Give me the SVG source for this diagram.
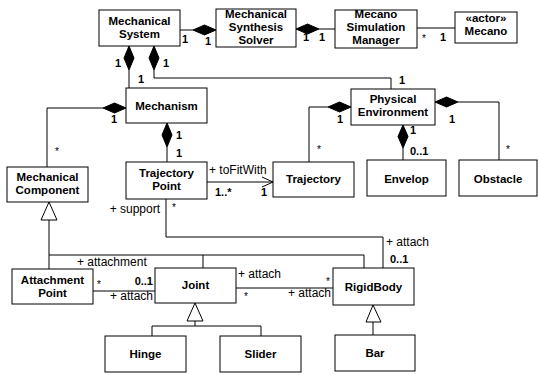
<svg xmlns="http://www.w3.org/2000/svg" width="538" height="375" viewBox="0 0 538 375">
<style>
.box{fill:#fff;stroke:#000;stroke-width:1}
.n{font-family:"Liberation Sans",Arial,sans-serif;font-size:11.5px;font-weight:bold;text-anchor:middle;fill:#000}
.m{font-family:"Liberation Sans",Arial,sans-serif;font-size:11px;font-weight:bold;fill:#000}
.r{font-family:"Liberation Sans",Arial,sans-serif;font-size:12px;fill:#000}
.s{font-family:"Liberation Sans",Arial,sans-serif;font-size:10px;fill:#000}
.ln{fill:none;stroke:#000;stroke-width:1}
.dm{fill:#000;stroke:#000;stroke-width:1}
.tri{fill:#fff;stroke:#000;stroke-width:1}
</style>
<rect width="538" height="375" fill="#fff"/>
<g id="connectors">
  <!-- MS - MSS -->
  <line class="ln" x1="180" y1="30" x2="193" y2="30"/>
  <polygon class="dm" points="216,30 204.5,25 193,30 204.5,35"/>
  <text class="m" x="185" y="43" text-anchor="middle">1</text>
  <text class="m" x="208" y="45" text-anchor="middle">1</text>
  <!-- MSS - MSM -->
  <polygon class="dm" points="296,29 307.5,24 319,29 307.5,34"/>
  <line class="ln" x1="319" y1="29" x2="335" y2="29"/>
  <text class="m" x="306" y="41" text-anchor="middle">1</text>
  <text class="m" x="322" y="41" text-anchor="middle">1</text>
  <!-- MSM - Mecano -->
  <line class="ln" x1="417" y1="28" x2="455" y2="28"/>
  <text class="s" x="424" y="42" text-anchor="middle">*</text>
  <text class="m" x="443" y="41" text-anchor="middle">1</text>
  <!-- MS - Mechanism -->
  <polygon class="dm" points="129,46 134,58 129,70 124,58"/>
  <line class="ln" x1="129" y1="70" x2="129" y2="88"/>
  <text class="m" x="118" y="67" text-anchor="middle">1</text>
  <text class="m" x="141" y="83" text-anchor="middle">1</text>
  <!-- MS - Physical Environment -->
  <polygon class="dm" points="154,46 159,58 154,70 149,58"/>
  <polyline class="ln" points="154,70 154,78 391,78 391,89"/>
  <text class="m" x="166" y="67" text-anchor="middle">1</text>
  <text class="m" x="402" y="84" text-anchor="middle">1</text>
  <!-- Mechanism - Mechanical Component -->
  <polygon class="dm" points="126,108 114.5,103 103,108 114.5,113"/>
  <polyline class="ln" points="103,108 47,108 47,167"/>
  <text class="m" x="114" y="123" text-anchor="middle">1</text>
  <text class="s" x="57" y="155" text-anchor="middle">*</text>
  <!-- Mechanism - Trajectory Point -->
  <polygon class="dm" points="167,123 172,135 167,147 162,135"/>
  <line class="ln" x1="167" y1="147" x2="167" y2="162"/>
  <text class="m" x="179" y="139" text-anchor="middle">1</text>
  <text class="m" x="179" y="157" text-anchor="middle">1</text>
  <!-- Trajectory Point - Trajectory -->
  <line class="ln" x1="207" y1="182" x2="273" y2="182"/>
  <polyline class="ln" points="262,177 273,182 262,187"/>
  <text class="r" x="209" y="174">+ toFitWith</text>
  <text class="m" x="215" y="196">1..*</text>
  <text class="m" x="264" y="196" text-anchor="middle">1</text>
  <!-- PE - Trajectory -->
  <polygon class="dm" points="351,107 339.5,102 328,107 339.5,112"/>
  <polyline class="ln" points="328,107 309,107 309,162"/>
  <text class="m" x="340" y="123" text-anchor="middle">1</text>
  <text class="s" x="319" y="153" text-anchor="middle">*</text>
  <!-- PE - Obstacle -->
  <polygon class="dm" points="435,102 446.5,97 458,102 446.5,107"/>
  <polyline class="ln" points="458,102 499,102 499,160"/>
  <text class="m" x="452" y="123" text-anchor="middle">1</text>
  <text class="s" x="508" y="153" text-anchor="middle">*</text>
  <!-- PE - Envelop -->
  <polygon class="dm" points="403,125 408,136.5 403,148 398,136.5"/>
  <line class="ln" x1="403" y1="148" x2="403" y2="160"/>
  <text class="m" x="413" y="134" text-anchor="middle">1</text>
  <text class="m" x="410" y="155">0..1</text>
  <!-- Generalization Mechanical Component -->
  <polygon class="tri" points="49,202 41,220 57,220"/>
  <line class="ln" x1="49" y1="220" x2="49" y2="255" stroke-width="1.3"/>
  <polyline class="ln" points="49,269 49,255 364,255 364,268"/>
  <line class="ln" x1="203" y1="255" x2="203" y2="268"/>
  <text class="r" x="77" y="266">+ attachment</text>
  <!-- Attachment Point - Joint -->
  <line class="ln" x1="93" y1="291" x2="155" y2="291"/>
  <text class="s" x="99" y="288" text-anchor="middle">*</text>
  <text class="m" x="153" y="285" text-anchor="end">0..1</text>
  <text class="r" x="153" y="300" text-anchor="end">+ attach</text>
  <!-- Joint - RigidBody -->
  <line class="ln" x1="236" y1="288" x2="333" y2="288"/>
  <text class="r" x="238" y="278">+ attach</text>
  <text class="s" x="328" y="285" text-anchor="middle">*</text>
  <text class="s" x="246" y="300" text-anchor="middle">*</text>
  <text class="r" x="331" y="297" text-anchor="end">+ attach</text>
  <!-- Trajectory Point - RigidBody -->
  <polyline class="ln" points="166,199 166,237 383,237 383,268"/>
  <text class="r" x="160" y="213" text-anchor="end">+ support</text>
  <text class="s" x="174" y="211" text-anchor="middle">*</text>
  <text class="r" x="386" y="246">+ attach</text>
  <text class="m" x="390" y="263">0..1</text>
  <!-- Generalization Joint -->
  <polygon class="tri" points="195,303 187,321 203,321"/>
  <polyline class="ln" points="195,321 195,326"/>
  <polyline class="ln" points="152,336 152,326 261,326 261,336"/>
  <!-- Generalization RigidBody -->
  <polygon class="tri" points="373,305 366,322 381,322"/>
  <line class="ln" x1="373" y1="322" x2="373" y2="335"/>
</g>
<g id="MechanicalSystem"><rect class="box" x="99" y="10" width="81" height="36"/><text class="n" x="139.5" y="25">Mechanical</text><text class="n" x="139.5" y="38">System</text></g>
<g id="MechanicalSynthesisSolver"><rect class="box" x="216" y="9" width="80" height="38"/><text class="n" x="256" y="18">Mechanical</text><text class="n" x="256" y="31">Synthesis</text><text class="n" x="256" y="44">Solver</text></g>
<g id="MecanoSimulationManager"><rect class="box" x="335" y="10" width="82" height="38"/><text class="n" x="376" y="18">Mecano</text><text class="n" x="376" y="31">Simulation</text><text class="n" x="376" y="44">Manager</text></g>
<g id="Mecano"><rect class="box" x="455" y="12" width="62" height="31"/><text class="n" x="486" y="21.5">«actor»</text><text class="n" x="486" y="34.5">Mecano</text></g>
<g id="Mechanism"><rect class="box" x="126" y="88" width="81" height="35"/><text class="n" x="166.5" y="109.5">Mechanism</text></g>
<g id="PhysicalEnvironment"><rect class="box" x="351" y="89" width="84" height="36"/><text class="n" x="393" y="103">Physical</text><text class="n" x="393" y="116">Environment</text></g>
<g id="MechanicalComponent"><rect class="box" x="7" y="167" width="81" height="35"/><text class="n" x="47.5" y="181">Mechanical</text><text class="n" x="47.5" y="194">Component</text></g>
<g id="TrajectoryPoint"><rect class="box" x="126" y="162" width="81" height="37"/><text class="n" x="166.5" y="177">Trajectory</text><text class="n" x="166.5" y="190">Point</text></g>
<g id="Trajectory"><rect class="box" x="273" y="162" width="81" height="35"/><text class="n" x="313.5" y="183">Trajectory</text></g>
<g id="Envelop"><rect class="box" x="367" y="160" width="79" height="36"/><text class="n" x="406.5" y="182.5">Envelop</text></g>
<g id="Obstacle"><rect class="box" x="459" y="160" width="78" height="36"/><text class="n" x="498" y="182.5">Obstacle</text></g>
<g id="AttachmentPoint"><rect class="box" x="12" y="269" width="81" height="35"/><text class="n" x="52.5" y="284">Attachment</text><text class="n" x="52.5" y="297">Point</text></g>
<g id="Joint"><rect class="box" x="155" y="268" width="81" height="35"/><text class="n" x="195.5" y="289">Joint</text></g>
<g id="RigidBody"><rect class="box" x="333" y="268" width="81" height="37"/><text class="n" x="373.5" y="290.5">RigidBody</text></g>
<g id="Hinge"><rect class="box" x="105" y="336" width="81" height="36"/><text class="n" x="145.5" y="357.5">Hinge</text></g>
<g id="Slider"><rect class="box" x="220" y="336" width="81" height="36"/><text class="n" x="260.5" y="357.5">Slider</text></g>
<g id="Bar"><rect class="box" x="335" y="335" width="80" height="36"/><text class="n" x="375" y="357">Bar</text></g>
</svg>
